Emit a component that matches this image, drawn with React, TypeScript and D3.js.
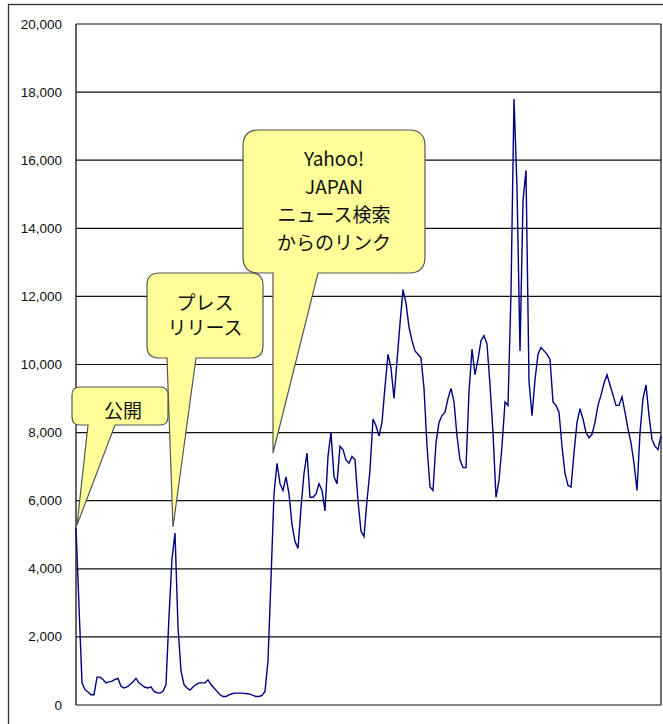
import React from 'react';
import * as d3 from 'd3';

// daily page views
const views: number[] = [
  5200, 2900, 650, 450, 380, 300, 300, 820, 820, 750,
  650, 680, 700, 750, 780, 550, 500, 530, 600, 680,
  780, 650, 580, 520, 500, 530, 400, 360, 350, 400,
  600, 2600, 4300, 5050, 2300, 1000, 600, 500, 440, 530,
  600, 650, 650, 650, 740, 600, 500, 400, 300, 250,
  250, 300, 330, 350, 350, 350, 340, 330, 320, 280,
  250, 250, 280, 400, 1300, 3700, 6200, 7100, 6500, 6300,
  6700, 6200, 5300, 4800, 4600, 5800, 6800, 7400, 6100, 6100,
  6200, 6500, 6300, 5700, 7300, 8000, 6700, 6500, 7600, 7500,
  7200, 7100, 7300, 7200, 6000, 5100, 4950, 6000, 6900, 8400,
  8200, 7900, 8300, 9350, 10300, 9900, 9000, 10100, 11200, 12200,
  11800, 11100, 10700, 10400, 10300, 10200, 9300, 7600, 6400, 6300,
  7700, 8300, 8500, 8600, 9000, 9300, 8900, 7900, 7200, 6970,
  6970, 9200, 10450, 9700, 10150, 10700, 10850, 10600, 9400, 8000,
  6100, 6600, 7600, 8900, 8800, 12100, 17800, 15200, 10400, 14800,
  15700, 9500, 8500, 9550, 10300, 10500, 10400, 10300, 10150, 8900,
  8800, 8600, 7600, 6800, 6450, 6400, 7400, 8300, 8700, 8400,
  8000, 7850, 7950, 8300, 8800, 9100, 9450, 9700, 9400, 9100,
  8800, 8800, 9050, 8600, 8100, 7700, 7100, 6300, 8000, 9000,
  9400, 8500, 7800, 7600, 7500, 7900,
];

const yTicks: number[] = [0, 2000, 4000, 6000, 8000, 10000, 12000, 14000, 16000, 18000, 20000];

const noteLabels: string[][] = [
  ['Yahoo!', 'JAPAN', 'ニュース検索', 'からのリンク'],
  ['プレス', 'リリース'],
  ['公開'],
];

// rounded box with a pointer coming out of its bottom edge
function calloutPath(x0: number, y0: number, x1: number, y1: number, r: number,
  bl: number, br: number, tx: number, ty: number) {
  return `M${x0 + r},${y0} H${x1 - r} Q${x1},${y0} ${x1},${y0 + r} V${y1 - r} Q${x1},${y1} ${x1 - r},${y1}` +
    ` H${br} L${tx},${ty} L${bl},${y1} H${x0 + r} Q${x0},${y1} ${x0},${y1 - r} V${y0 + r} Q${x0},${y0} ${x0 + r},${y0} Z`;
}

const App: React.FC = () => {
  const width = 663;
  const height = 724;
  const left = 76, right = 661, top = 24, bottom = 705;

  const x = d3.scaleLinear().domain([0, views.length - 1]).range([left, right]);
  const y = d3.scaleLinear().domain([0, 20000]).range([bottom, top]);
  const line = d3.line<number>().x((_, i) => x(i)).y(d => y(d));
  const fmt = d3.format(',');

  const boxes = [
    { x0: 243, y0: 130, x1: 425, y1: 273, r: 16, bl: 273, br: 318, tx: 273, ty: 453, cx: 334, ly: 157, lh: 28.3 },
    { x0: 147, y0: 273, x1: 263, y1: 358, r: 12, bl: 167, br: 196, tx: 173, ty: 527, cx: 205, ly: 301, lh: 25.5 },
    { x0: 72, y0: 387, x1: 168, y1: 425, r: 8, bl: 88, br: 115, tx: 77, ty: 525, cx: 123, ly: 409, lh: 25 },
  ];

  return (
    <svg width={width} height={height} style={{ position: 'absolute', left: 0, top: 0, background: '#fff' }}>
      <rect x={8.5} y={4.5} width={700} height={760} fill="#fff" stroke="#333" strokeWidth={1.3} />

      {yTicks.map(t => (
        <g key={t}>
          <line x1={left} x2={right} y1={y(t)} y2={y(t)} stroke="#111" strokeWidth={1.2} />
          <text x={62} y={y(t)} textAnchor="end" dominantBaseline="central"
            fontFamily="Liberation Sans, Arial, sans-serif" fontSize={13.5} fill="#111">{fmt(t)}</text>
        </g>
      ))}
      <line x1={left} x2={left} y1={top} y2={bottom} stroke="#111" strokeWidth={1.3} />
      <line x1={right} x2={right} y1={top} y2={bottom} stroke="#111" strokeWidth={1.2} />

      <path d={line(views) ?? ''} fill="none" stroke="#000080" strokeWidth={1.4} strokeLinejoin="miter" />

      {boxes.map((b, i) => (
        <g key={i}>
          <path d={calloutPath(b.x0, b.y0, b.x1, b.y1, b.r, b.bl, b.br, b.tx, b.ty)}
            fill="#ffff99" stroke="#555" strokeWidth={1.2} />
          {noteLabels[i].map((s, j) => (
            <text key={j} x={b.cx} y={b.ly + j * b.lh} textAnchor="middle" dominantBaseline="central"
              fontFamily="Noto Sans CJK JP, sans-serif" fontSize={19} fill="#111">{s}</text>
          ))}
        </g>
      ))}
    </svg>
  );
};

export default App;
